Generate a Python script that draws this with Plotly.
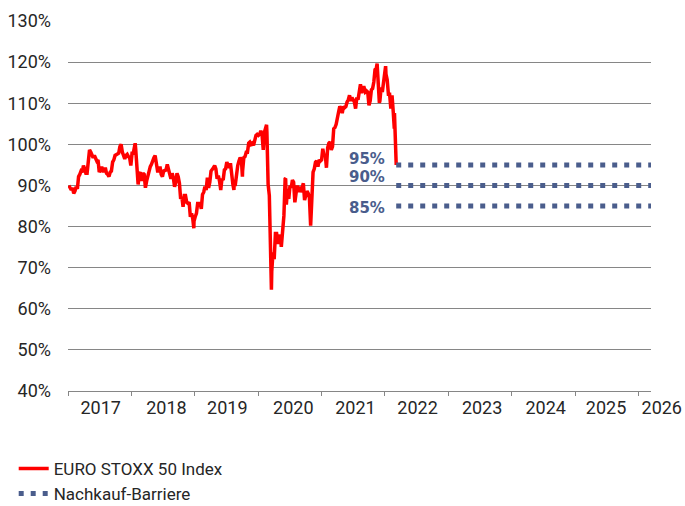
import pandas as pd
import plotly.graph_objects as go

# ---------------- data ----------------
BASE_LEVEL = 3690  # EURO STOXX 50 level that corresponds to 100 %

# weekly closes (Fridays), index points
week1_2017 = "2017-01-06"
close_2017 = [3320, 3300, 3280, 3300,
              3250, 3270, 3310, 3290,
              3400, 3420, 3450, 3440, 3500,
              3470, 3430, 3430, 3560,
              3640, 3620, 3590, 3570,
              3590, 3560, 3540, 3550, 3440,
              3460, 3490, 3450, 3450,
              3480, 3430, 3420, 3400,
              3440, 3450, 3530, 3550, 3590,
              3600, 3610, 3610, 3670,
              3690, 3620, 3580, 3560,
              3590, 3600, 3580, 3570, 3500]

week1_2018 = "2018-01-05"
close_2018 = [3610, 3610, 3660, 3650,
              3520, 3330, 3420, 3440,
              3360, 3430, 3420, 3300, 3360,
              3410, 3440, 3490, 3510,
              3550, 3570, 3590, 3510,
              3450, 3450, 3490, 3420, 3400,
              3450, 3460, 3460, 3510,
              3470, 3420, 3380, 3430, 3390,
              3310, 3350, 3430, 3400,
              3340, 3200, 3220, 3130,
              3230, 3230, 3170, 3160, 3170,
              3040, 3070, 3020, 3000]

week1_2019 = "2019-01-04"
close_2019 = [3040, 3070, 3160, 3160,
              3160, 3110, 3240, 3260,
              3310, 3280, 3390, 3300, 3350,
              3450, 3460, 3480, 3500,
              3470, 3380, 3410, 3360, 3280,
              3380, 3370, 3460, 3470,
              3530, 3510, 3480, 3520,
              3380, 3330, 3330, 3330, 3430,
              3500, 3540, 3570, 3550,
              3450, 3570, 3580, 3620,
              3620, 3700, 3710, 3690, 3700,
              3680, 3730, 3770, 3780]

week1_2020 = "2020-01-03"
close_2020 = [3770, 3780, 3810, 3780, 3640,
              3800, 3840, 3800, 3330,
              3230, 2590, 2550, 2720,
              2660, 2890, 2890, 2810,
              2810, 2880, 2770, 2900, 3050,
              3380, 3150, 3290, 3200,
              3320, 3300, 3370, 3350, 3170,
              3250, 3320, 3260, 3310,
              3260, 3320, 3340, 3190,
              3230, 3270, 3250, 3210, 2960,
              3230, 3440, 3470, 3530,
              3540, 3490, 3550, 3540]

week1_2021 = "2021-01-01"
close_2021 = [3550, 3650, 3590, 3600, 3480,
              3660, 3700, 3710, 3640,
              3670, 3830, 3840, 3870,
              3950, 3980, 4030, 4010, 3970,
              4030, 4020, 4030, 4070,
              4090, 4130, 4080, 4110,
              4080, 4070, 4010, 4110, 4090,
              4180, 4230, 4150, 4200,
              4200, 4160, 4170, 4160,
              4040, 4080, 4180, 4190, 4250,
              4360, 4370, 4360, 4090,
              4080, 4200, 4160, 4230, 4300]

week1_2022 = "2022-01-07"
close_2022 = [4320, 4270, 4140, 4140,
              4010, 4130, 3980, 3970,
              3560]

# intra-week extremes visible in the chart
extreme_dates = ["2018-01-23", "2018-12-27", "2019-08-15", "2019-10-03",
                 "2020-02-19", "2020-03-12", "2020-03-16", "2020-03-18",
                 "2020-05-14", "2020-06-08", "2021-11-17", "2021-11-30",
                 "2022-01-05", "2022-02-24", "2022-03-07"]
extreme_levels = [3700, 2937, 3280, 3400,
                  3865, 2545, 2450, 2386,
                  2770, 3384, 4415, 4063,
                  4392, 3830, 3505]

# purchase barriers (in % of start level)
barrier_levels = [95, 90, 85]
barrier_labels = ["95%", "90%", "85%"]
barrier_start = "2022-03-07"
axis_start = "2017-01-01"
axis_end = "2026-03-14"

year_labels = ["2017", "2018", "2019", "2020", "2021",
               "2022", "2023", "2024", "2025", "2026"]
year_label_dates = ["2017-07-08", "2018-07-22", "2019-07-08", "2020-07-22", "2021-07-15",
                    "2022-07-08", "2023-07-15", "2024-07-15", "2025-06-28", "2026-05-15"]

# ---------------- build series ----------------
frames = []
for start, vals in [(week1_2017, close_2017), (week1_2018, close_2018),
                    (week1_2019, close_2019), (week1_2020, close_2020),
                    (week1_2021, close_2021), (week1_2022, close_2022)]:
    frames.append(pd.DataFrame({"date": pd.date_range(start, periods=len(vals), freq="7D"),
                                "level": vals}))
frames.append(pd.DataFrame({"date": pd.to_datetime(extreme_dates), "level": extreme_levels}))
df = pd.concat(frames).sort_values("date").reset_index(drop=True)
df["pct"] = df["level"] / BASE_LEVEL * 100

# ---------------- styles ----------------
RED = "#FF0000"
BLUE = "#4A5D8C"
GRID = "#868686"
TEXT = "#262626"
FONT = "Roboto"
label_yshift = [6, 8, -1.5]

W, H = 685, 506
M_L, M_R, M_T, M_B = 68, 0, 21, 115
PLOT_RIGHT = 651  # right end of the gridlines / x axis line
main_domain_end = (PLOT_RIGHT - M_L) / (W - M_L - M_R)

# second x axis: same scale as the main one, but reaching the page edge (for the year labels)
t0 = pd.Timestamp(axis_start)
t1 = pd.Timestamp(axis_end)
label_axis_end = t0 + (t1 - t0) / main_domain_end

fig = go.Figure()
fig.add_trace(go.Scatter(
    x=df["date"], y=df["pct"], mode="lines",
    line=dict(color=RED, width=3.5),
    name="EURO STOXX 50 Index", legendgroup="idx"))

for i, lvl in enumerate(barrier_levels):
    fig.add_trace(go.Scatter(
        x=[barrier_start, axis_end], y=[lvl, lvl], mode="lines",
        xaxis="x2", yaxis="y2",
        line=dict(color=BLUE, width=5, dash="5px,7px"),
        name="Nachkauf-Barriere", legendgroup="bar",
        showlegend=(i == 0), cliponaxis=False))

annotations = []
for lbl, lvl, dy in zip(barrier_labels, barrier_levels, label_yshift):
    annotations.append(dict(
        x=barrier_start, y=lvl, xref="x", yref="y", text=lbl, showarrow=False,
        xanchor="right", yanchor="middle", xshift=-9, yshift=dy,
        font=dict(family="DejaVu Sans", size=15, color=BLUE, weight="bold")))

fig.update_layout(
    width=W, height=H,
    margin=dict(l=M_L, r=M_R, t=M_T, b=M_B, autoexpand=False),
    paper_bgcolor="white", plot_bgcolor="rgba(0,0,0,0)",
    showlegend=True,
    legend=dict(
        xref="container", yref="container", x=0.02, y=0.109,
        xanchor="left", yanchor="top",
        orientation="v", traceorder="grouped", tracegroupgap=0,
        font=dict(family=FONT, size=17, color=TEXT),
        bgcolor="rgba(0,0,0,0)"),
    annotations=annotations,
    xaxis=dict(
        type="date", range=[axis_start, axis_end], domain=[0, main_domain_end],
        showgrid=False, zeroline=False,
        showline=True, linecolor=GRID, linewidth=1.3,
        ticks="outside", ticklen=4, tickcolor=GRID, tickwidth=1.3,
        tick0=axis_start, dtick="M12", showticklabels=False, automargin=False),
    yaxis=dict(
        range=[40, 130], tick0=40, dtick=10, ticksuffix="%",
        showgrid=True, gridcolor=GRID, gridwidth=1.3,
        zeroline=False, showline=False, ticks="",
        ticklabelstandoff=16, automargin=False,
        tickfont=dict(family=FONT, size=18, color=TEXT)),
    xaxis2=dict(
        type="date", range=[t0, label_axis_end], domain=[0, 1], anchor="y2",
        showgrid=False, zeroline=False, showline=False, ticks="",
        tickmode="array", tickvals=year_label_dates, ticktext=year_labels,
        ticklabelstandoff=4, automargin=False,
        tickfont=dict(family=FONT, size=18, color=TEXT)),
    yaxis2=dict(
        range=[40, 130], domain=[0, 1], anchor="x2",
        showgrid=False, zeroline=False, showline=False, ticks="",
        showticklabels=False, automargin=False),
)

fig.write_html("out.html", config={"displayModeBar": False},
               post_script="document.body.style.margin='0';")
